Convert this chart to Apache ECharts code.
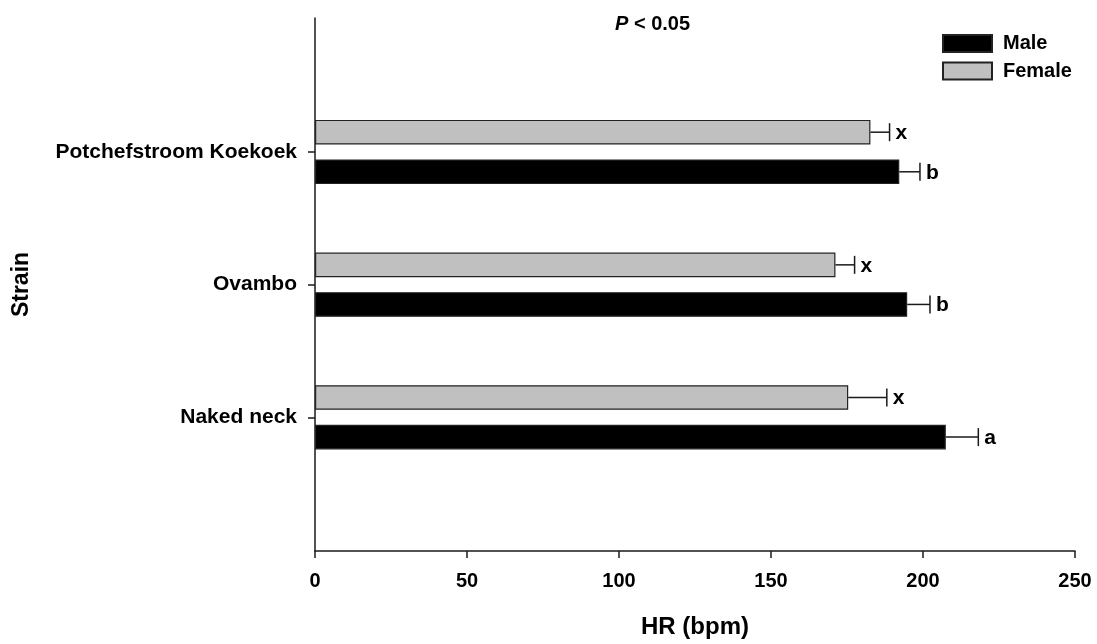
<!DOCTYPE html>
<html>
<head>
<meta charset="utf-8">
<script src="https://cdn.jsdelivr.net/npm/echarts@6/dist/echarts.min.js"></script>
<style>html,body{margin:0;padding:0;background:#fff}#c{width:1097px;height:644px}</style>
</head>
<body>
<div id="c"></div>
<script>
// ---- data (bottom to top) ----
const categories = ['Naked neck', 'Ovambo', 'Potchefstroom Koekoek'];
const maleHR = [207.5, 194.8, 192.2];
const maleSE = [10.7, 7.5, 6.8];
const maleLetters = ['a', 'b', 'b'];
const femaleHR = [175.4, 171.2, 182.7];
const femaleSE = [12.7, 6.3, 6.3];
const femaleLetters = ['x', 'x', 'x'];
const xTicks = [0, 50, 100, 150, 200, 250];

const FONT = 'Liberation Sans, Arial, Helvetica, sans-serif';
const AX = '#1a1a1a';
const BAR_W = 24.6;
const BAR_GAP_PX = 15;
const OFF = BAR_W / 2 + BAR_GAP_PX / 2;

function errRender(offsetSign, letters) {
  return function (params, api) {
    const v = api.value(0), c = api.value(1), se = api.value(2);
    const p0 = api.coord([v, c]);
    const p1 = api.coord([v + se, c]);
    const y = p0[1] + offsetSign * OFF;
    const cap = 9;
    return {
      type: 'group',
      children: [
        { type: 'line', shape: { x1: p0[0], y1: y, x2: p1[0], y2: y }, style: { stroke: AX, lineWidth: 1.5 } },
        { type: 'line', shape: { x1: p1[0], y1: y - cap, x2: p1[0], y2: y + cap }, style: { stroke: AX, lineWidth: 1.5 } },
        { type: 'text', style: { text: letters[params.dataIndex], x: p1[0] + 6, y: y + 1, verticalAlign: 'middle', align: 'left', font: 'bold 21px ' + FONT, fill: '#000' } }
      ]
    };
  };
}

const chart = echarts.init(document.getElementById('c'), null, { renderer: 'canvas' });
chart.setOption({
  animation: false,
  backgroundColor: '#fff',
  textStyle: { fontFamily: FONT },
  title: {
    text: '{i|P} < 0.05',
    left: 610, top: 9,
    textStyle: {
      fontSize: 20, fontWeight: 'bold', color: '#000', fontFamily: FONT,
      rich: { i: { fontStyle: 'italic', fontWeight: 'bold', fontSize: 20, fontFamily: FONT, color: '#000' } }
    }
  },
  legend: {
    orient: 'vertical', left: 942, top: 33.5, padding: 0,
    itemWidth: 49, itemHeight: 17, itemGap: 7.5,
    data: ['Male', 'Female'],
    icon: 'rect',
    textStyle: { fontSize: 20, fontWeight: 'bold', color: '#000', fontFamily: FONT, lineHeight: 20, padding: [0, 0, 0, 6] }
  },
  grid: [
    { left: 315, right: 22, top: 18, bottom: 93 },
    { left: 315, right: 22, top: 85.65, height: 398 }
  ],
  xAxis: [
    {
      gridIndex: 0, type: 'value', min: xTicks[0], max: xTicks[xTicks.length - 1], interval: 50,
      name: 'HR (bpm)', nameLocation: 'middle', nameGap: 64,
      nameTextStyle: { fontSize: 24, fontWeight: 'bold', color: '#000', fontFamily: FONT },
      axisLine: { show: true, lineStyle: { color: AX, width: 1.5 } },
      axisTick: { show: true, length: 7, lineStyle: { color: AX, width: 1.5 } },
      axisLabel: { fontSize: 20, fontWeight: 'bold', color: '#000', margin: 20, fontFamily: FONT },
      splitLine: { show: false }
    },
    {
      gridIndex: 1, type: 'value', min: xTicks[0], max: xTicks[xTicks.length - 1], interval: 50,
      show: false
    }
  ],
  yAxis: [
    {
      gridIndex: 0, type: 'value', min: 0, max: 1,
      name: 'Strain', nameLocation: 'middle', nameGap: 282, nameRotate: 90,
      nameTextStyle: { fontSize: 23, fontWeight: 'bold', color: '#000', fontFamily: FONT },
      axisLine: { show: true, lineStyle: { color: AX, width: 1.5 } },
      axisTick: { show: false }, axisLabel: { show: false }, splitLine: { show: false }
    },
    {
      gridIndex: 1, type: 'category', data: categories,
      axisLine: { show: false },
      axisTick: { show: true, alignWithLabel: true, length: 7, lineStyle: { color: AX, width: 1.5 } },
      axisLabel: { fontSize: 21, fontWeight: 'bold', color: '#000', margin: 18, fontFamily: FONT },
      splitLine: { show: false }
    }
  ],
  series: [
    {
      name: 'Female', type: 'bar', xAxisIndex: 1, yAxisIndex: 1,
      data: femaleHR, barWidth: BAR_W, barGap: (BAR_GAP_PX / BAR_W * 100) + '%',
      itemStyle: { color: '#c0c0c0', borderColor: '#222', borderWidth: 1.2 }
    },
    {
      name: 'Male', type: 'bar', xAxisIndex: 1, yAxisIndex: 1,
      data: maleHR, barWidth: BAR_W,
      itemStyle: { color: '#000', borderColor: '#222', borderWidth: 1.2 }
    },
    {
      type: 'custom', xAxisIndex: 1, yAxisIndex: 1, clip: false, z: 3,
      renderItem: errRender(-1, femaleLetters),
      encode: { x: 0, y: 1 },
      data: femaleHR.map((v, i) => [v, i, femaleSE[i]])
    },
    {
      type: 'custom', xAxisIndex: 1, yAxisIndex: 1, clip: false, z: 3,
      renderItem: errRender(1, maleLetters),
      encode: { x: 0, y: 1 },
      data: maleHR.map((v, i) => [v, i, maleSE[i]])
    }
  ]
});
</script>
</body>
</html>
